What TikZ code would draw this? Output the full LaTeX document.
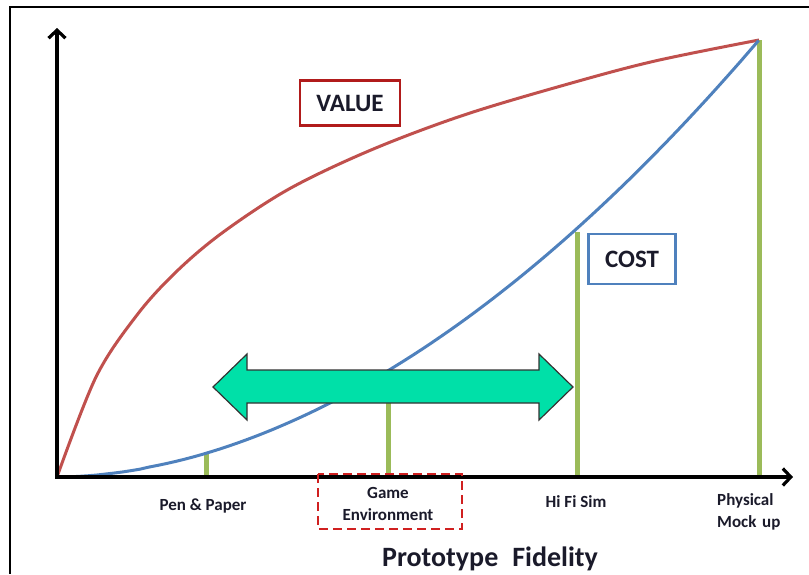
\documentclass[tikz,border=0pt]{standalone}
\usepackage{fontspec}
\setmainfont{Carlito}
\usetikzlibrary{arrows.meta}
\definecolor{valred}{HTML}{C0504D}
\definecolor{costblue}{HTML}{4F81BD}
\definecolor{barg}{HTML}{9BBB59}
\definecolor{arrg}{HTML}{00E0A8}
\definecolor{boxred}{HTML}{D02020}
\definecolor{txt}{HTML}{1A1A2A}
\begin{document}
\begin{tikzpicture}[x=1pt,y=-1pt,
  axis/.style={line width=3.2pt,-{Straight Barb[length=8pt,width=17pt,line width=3.2pt]}},
  curve/.style={line width=3pt},
  bar/.style={barg,line width=5pt},
  tick/.style={font=\bfseries\fontsize{17}{19}\selectfont,text=txt,inner sep=0pt},
  lbl/.style={draw,line width=2.2pt,fill=white,font=\bfseries\fontsize{25}{27}\selectfont,text=txt,minimum height=45pt,inner sep=4pt}]
\useasboundingbox (0,0) rectangle (809,574);
\draw[line width=2.6pt] (809,7) -- (10,7) -- (10,574);
% points
\coordinate (o) at (57,477);
\coordinate (ytop) at (57,28);
\coordinate (xend) at (793,477);
\coordinate (pp) at (206,477);
\coordinate (ppt) at (206,453);
\coordinate (ge) at (388,477);
\coordinate (get) at (388,371);
\coordinate (hf) at (577,477);
\coordinate (hft) at (577,232);
\coordinate (ph) at (759,477);
\coordinate (pht) at (759,40);
% bars
\draw[bar] (pp) -- (ppt);
\draw[bar] (ge) -- (get);
\draw[bar] (hf) -- (hft);
\draw[bar] (ph) -- (pht);
% curves
\draw[curve,valred,line join=round] plot[smooth,tension=0.55] coordinates {(57,477) (96,377) (137,315) (176,272) (222,233) (289,189) (371,150) (464,115) (568,84) (655,61) (759,40)};
\draw[curve,costblue,line join=round] (o) -- plot[domain=0.005:1,samples=80] ({57+702*\x},{477-437*(\x)^1.88});
% axes
\draw[axis] (o) -- (ytop);
\draw[axis] ([xshift=-1.6pt]o) -- (xend);
% double arrow
\draw[line width=1.2pt,fill=arrg,line join=miter,draw=black!80] (213,387) -- (247,354) -- (247,370) -- (539,370) -- (539,354) -- (573,387) -- (539,420) -- (539,403) -- (247,403) -- (247,420) -- cycle;
% boxes
\node[lbl,draw=boxred!85!black,minimum width=100pt] (value) at (350,103) {VALUE};
\node[lbl,draw=costblue,minimum width=87pt,minimum height=50pt] (cost) at (632,259) {COST};
% tick labels
\node[tick] (ppl) at (203,506) {Pen \& Paper};
\node[tick,align=center] (gel) at (388,504) {Game\\[3pt]Environment};
\draw[boxred,line width=2pt,dash pattern=on 9pt off 5pt] (318,474) rectangle (462,529);
\node[tick] (hfl) at (576,502) {Hi Fi Sim};
\node[tick,align=left,anchor=west] (phl) at (717,512) {Physical\\[3pt]Mock\,\,up};
\node[font=\bfseries\fontsize{28}{30}\selectfont,text=txt,inner sep=0pt] (title) at (490,559) {Prototype\,\,\,Fidelity};
\end{tikzpicture}
\end{document}
